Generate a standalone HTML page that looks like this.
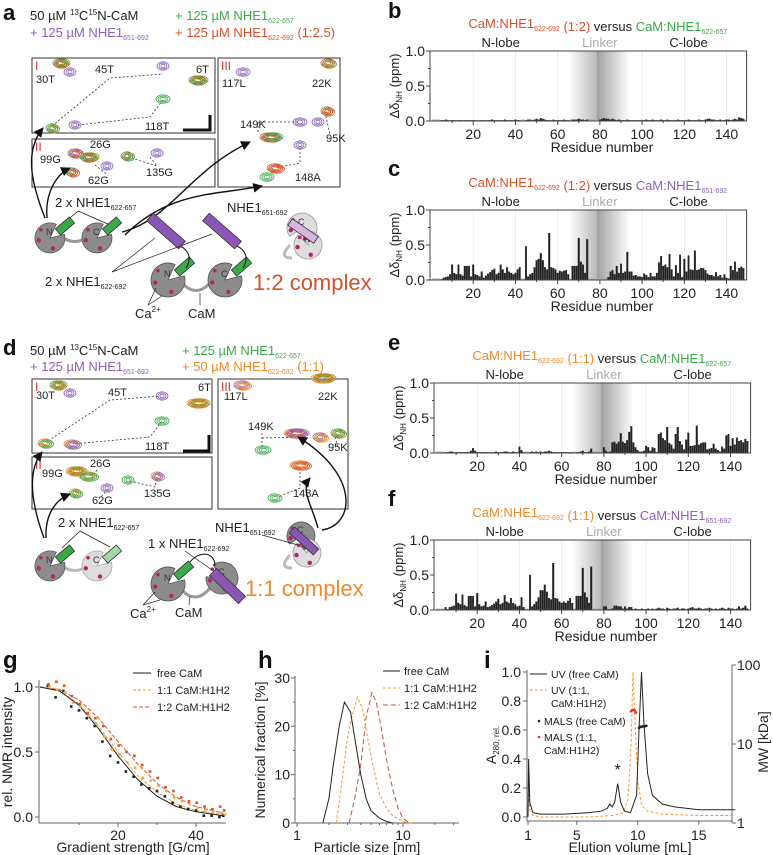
<!DOCTYPE html>
<html><head><meta charset="utf-8"><style>
html,body{margin:0;padding:0;background:#fff}
svg{display:block;font-family:"Liberation Sans",Arial,sans-serif}
</style></head><body>
<svg id="fig" width="773" height="855" viewBox="0 0 773 855" xmlns="http://www.w3.org/2000/svg">
<defs>
<linearGradient id="lk" x1="0" x2="1" y1="0" y2="0">
<stop offset="0" stop-color="#fff"/><stop offset="0.45" stop-color="#bdbdbd"/><stop offset="0.5" stop-color="#999"/><stop offset="0.52" stop-color="#aaa"/><stop offset="1" stop-color="#fff"/>
</linearGradient>
<marker id="ah" viewBox="0 0 10 10" refX="9" refY="5" markerWidth="7" markerHeight="7" orient="auto"><path d="M0,0 L10,5 L0,10 Z" fill="#111"/></marker>
</defs>
<g id="layer"></g>
</svg>
<script>
// ---------- bar chart data (residues 1..148, -1 = unassigned) ----------
const resB = [-1,-1,-1,-1,0.01,0.01,0.02,0.01,0.0,0.01,0.01,0.0,0.01,0.01,0.0,0.01,0.01,0.01,0.01,0.01,0.01,0.0,0.0,0.01,0.01,0.0,0.01,0.01,0.02,0.01,0.01,0.01,0.01,0.01,0.02,0.01,0.01,0.01,0.01,0.02,0.01,0.01,-1,-1,0.01,0.02,0.02,0.01,0.02,0.03,0.02,0.04,0.03,0.02,0.01,0.01,0.01,0.02,0.01,0.01,0.01,0.01,0.02,0.01,0.01,-1,0.02,0.02,0.02,0.03,0.02,0.02,0.01,0.02,-1,-1,-1,-1,-1,0.02,0.03,0.04,0.03,0.03,0.02,0.03,0.02,0.01,0.02,0.01,0.01,0.01,0.02,0.01,0.01,0.01,0.01,0.01,0.01,0.01,0.01,0.02,0.01,0.01,0.02,0.01,0.01,0.01,0.02,0.01,0.01,0.02,0.01,0.01,0.01,0.01,0.02,0.01,0.01,0.01,0.01,0.02,0.01,0.01,0.01,0.01,0.02,0.01,0.01,0.02,0.03,0.03,0.02,0.02,0.01,0.01,0.02,0.01,0.01,0.02,0.02,0.01,0.02,0.03,0.02,0.05,0.04,0.03];
const resC = [-1,-1,-1,-1,0.01,0.03,0.04,0.05,0.08,0.22,0.1,0.08,0.22,0.08,0.06,0.2,0.2,0.2,0.05,0.22,0.08,0.07,0.05,0.12,0.03,0.06,0.09,0.11,0.14,0.16,0.08,0.1,0.22,0.15,0.1,0.18,0.12,0.1,0.08,0.1,0.15,0.18,-1,-1,0.48,0.05,0.08,0.1,0.18,0.28,0.3,0.38,0.28,0.18,0.15,0.67,0.18,0.17,0.15,0.1,0.13,0.12,0.13,0.14,0.08,-1,0.2,0.2,0.2,0.6,0.26,0.22,0.1,0.58,-1,-1,-1,-1,-1,-1,-1,-1,-1,0.04,0.12,0.14,0.08,0.2,0.1,0.23,0.1,0.12,0.4,0.12,0.12,0.06,0.07,0.05,0.05,0.04,0.09,0.07,0.04,0.1,0.05,0.05,0.1,0.25,0.34,0.2,0.22,0.18,0.37,0.15,0.05,0.21,0.1,0.36,0.04,0.3,0.12,0.35,0.15,0.14,0.42,0.14,0.15,0.17,0.17,0.14,0.09,0.07,0.07,0.05,0.11,0.05,0.07,0.03,0.08,0.03,0.02,0.2,0.14,0.26,0.12,0.17,0.19,0.17];
const resE = [-1,-1,-1,-1,0.01,0.01,0.02,0.02,0.01,0.01,0.01,0.0,0.01,0.01,0.01,0.01,0.03,0.07,0.03,0.01,0.0,0.01,0.0,0.0,0.01,0.0,0.0,0.01,0.02,0.0,0.01,0.01,0.02,0.02,0.01,0.01,0.02,0.01,0.01,0.09,0.04,0.01,-1,-1,0.01,0.02,0.01,0.02,0.01,0.02,0.01,0.02,0.02,0.03,0.02,0.01,0.01,0.01,0.0,0.01,0.01,0.01,0.01,0.0,0.01,-1,0.01,0.01,0.02,0.03,0.01,0.01,0.02,0.06,-1,-1,-1,-1,-1,0.08,0.03,0.01,0.02,0.15,0.16,0.13,0.16,0.28,0.16,0.14,0.18,0.3,0.38,0.15,0.08,0.04,0.02,0.02,0.03,0.1,0.08,0.03,0.08,0.07,0.01,0.27,0.29,0.21,0.18,0.37,0.14,0.12,0.06,0.27,0.37,0.17,0.12,0.05,0.19,0.29,0.1,0.1,0.11,0.39,0.12,0.14,0.15,0.15,0.05,0.06,0.07,0.13,0.06,0.04,0.02,0.09,0.06,0.25,0.27,0.1,0.21,0.12,0.22,0.17,0.18,0.15,0.2,0.17];
const resF = [-1,-1,-1,-1,0.04,0.01,0.04,0.05,0.06,0.23,0.1,0.08,0.22,0.07,0.05,0.2,0.2,0.2,0.05,0.24,0.08,0.05,0.06,0.12,0.04,0.05,0.07,0.09,0.12,0.16,0.08,0.1,0.21,0.12,0.1,0.17,0.1,0.08,0.05,0.06,0.18,0.04,-1,-1,0.5,0.05,0.08,0.12,0.18,0.28,0.28,0.36,0.26,0.17,0.15,0.67,0.17,0.16,0.12,0.1,0.12,0.1,0.13,0.17,0.1,-1,0.2,0.2,0.2,0.6,0.25,0.18,0.1,0.62,-1,-1,-1,-1,-1,0.05,0.05,0.01,0.01,0.02,0.06,0.06,0.05,0.05,0.02,0.05,0.02,0.04,0.04,0.01,0.02,0.01,0.01,0.02,0.01,0.01,0.02,0.01,0.02,0.01,0.02,0.03,0.02,0.02,0.01,0.03,0.02,0.01,0.02,0.02,0.03,0.01,0.02,0.02,0.01,0.02,0.03,0.04,0.02,0.02,0.03,0.02,0.01,0.02,0.02,0.03,0.02,0.01,0.02,0.01,0.02,0.03,0.02,0.01,0.03,0.02,0.02,0.01,0.02,0.05,0.02,0.03,0.06,0.02];
const yTicksBar = [0.0, 0.5, 1.0];
const xTicksBar = [20, 40, 60, 80, 100, 120, 140];

// ---------- panel g ----------
const gradX = [2,4,6,8,10,12,14,16,18,20,22,24,26,28,30,32,34,36,38,40,42,44,46,47];
const gFree = [1.01,0.92,0.97,0.85,0.82,0.76,0.7,0.58,0.47,0.42,0.35,0.31,0.25,0.22,0.2,0.16,0.11,0.08,0.06,0.05,0.01,0.01,0.0,0.01];
const g11 = [1.0,0.98,0.96,0.88,0.85,0.78,0.72,0.62,0.52,0.48,0.42,0.38,0.3,0.28,0.24,0.2,0.15,0.12,0.1,0.07,0.05,0.04,0.03,0.02];
const g12 = [1.02,1.04,1.01,0.93,0.87,0.8,0.76,0.7,0.6,0.55,0.5,0.47,0.4,0.35,0.3,0.23,0.2,0.15,0.12,0.11,0.08,0.06,0.08,0.05];
const fitX = [0,5,10,15,20,25,30,35,40,47];
const fitFree = [1.0,0.97,0.86,0.68,0.47,0.29,0.16,0.08,0.04,0.01];
const fit11 = [1.0,0.97,0.87,0.7,0.5,0.32,0.19,0.1,0.05,0.02];
const fit12 = [1.0,0.98,0.9,0.76,0.58,0.41,0.26,0.15,0.08,0.03];

// ---------- panel h ----------
const hFreeX = [1.75,2.0,2.2,2.5,2.8,3.2,3.6,4.0,4.5,5.0,6.0,7.0,8.0];
const hFreeY = [0,5,12,20,25,23,16,10,5,2.5,1,0.3,0];
const h11X = [2.35,2.6,3.0,3.3,3.7,4.1,4.6,5.2,6.0,7.0,8.0,10.0,12.0];
const h11Y = [0,7,18,22,26,24,18,12,6,3,1.5,0.3,0];
const h12X = [3.1,3.5,4.0,4.5,5.1,5.6,6.2,7.0,8.0,9.0,10.0,11.5];
const h12Y = [0,5,12,22,27,25,20,13,7,3,1,0];

// ---------- panel i ----------
const uvFreeX = [1.0,1.05,1.15,1.4,2,4,6,7.0,7.5,7.7,7.9,8.1,8.35,8.6,8.9,9.4,9.9,10.1,10.3,10.5,10.8,11.2,12,13,15,18];
const uvFreeY = [0.0,0.4,0.1,0.03,0.02,0.02,0.03,0.04,0.06,0.09,0.07,0.1,0.23,0.1,0.04,0.03,0.15,0.6,1.0,0.65,0.3,0.15,0.09,0.07,0.05,0.05];
const uv11X = [1.0,1.05,1.15,1.4,2,6,8,8.8,9.2,9.45,9.6,9.8,10.0,10.3,10.8,12,15,18];
const uv11Y = [0.0,0.2,0.05,0.01,0.0,0.0,0.01,0.03,0.12,0.5,1.0,0.6,0.25,0.08,0.04,0.02,0.01,0.01];
const malsFreeX = [10.1,10.2,10.3,10.4,10.5,10.6,10.7];
const malsFreeMW = [16,16.5,16.5,16.7,16.8,16.8,17];
const mals11X = [9.45,9.55,9.65,9.75,9.85];
const mals11MW = [26,27,27,26.5,25];

// ---------- helpers ----------
const NS = 'http://www.w3.org/2000/svg';
const root = document.getElementById('layer');
function el(tag, attrs, name, parent){
  const e = document.createElementNS(NS, tag);
  for (const k in attrs) e.setAttribute(k, attrs[k]);
  
  
  (parent || root).appendChild(e);
  return e;
}
function txt(x, y, s, size, name, opts){
  opts = opts || {};
  const t = el('text', {x:x, y:y, 'font-size':size, fill:opts.fill||'#222', 'text-anchor':opts.anchor||'start', 'font-weight':opts.weight||'normal'}, name, opts.parent);
  if (opts.rot) t.setAttribute('transform', 'rotate(' + opts.rot + ' ' + x + ' ' + y + ')');
  t.innerHTML = s;
  return t;
}
function pathFrom(xs, ys, sx, sy){
  return xs.map((v,i)=>(i?'L':'M') + sx(v).toFixed(1) + ',' + sy(ys[i]).toFixed(1)).join(' ');
}
const SUB = (s,c)=>'<tspan font-size="7" dy="3" fill="'+c+'">'+s+'</tspan><tspan dy="-3"> </tspan>';

// ---------- bar panels ----------
const RED='#d4522a', GRN='#3aaa48', PUR='#8a62b6', ORG='#f0892a';
function barPanel(cfg){
  const g = el('g', {}, cfg.name);
  const sx = r => cfg.x0 + r*2.111;
  const sy = v => cfg.yb - v*(cfg.yb-cfg.yt);
  const L = sx(0)-1, R = sx(149.5);
  el('rect', {x:sx(65), y:cfg.yt, width:sx(94)-sx(65), height:cfg.yb-cfg.yt, fill:'url(#lk)'}, 'linker-shading', g);
  xTicksBar.forEach(t=>{
    el('line', {x1:sx(t), x2:sx(t), y1:cfg.yt, y2:cfg.yb, stroke:'#ccc', 'stroke-width':0.7, 'stroke-dasharray':'1,1'}, 'grid-line', g);
  });
  cfg.data.forEach((v,i)=>{
    const r = i+1;
    if (v < 0){
      el('rect', {x:sx(r)-0.9, y:cfg.yb-1.5, width:1.8, height:1.5, fill:'#aaa'}, 'unassigned-residue', g);
    } else {
      const h = Math.max(0.6, cfg.yb - sy(v));
      el('rect', {x:sx(r)-0.85, y:cfg.yb-h, width:1.7, height:h, fill:'#222', stroke:'#111', 'stroke-width':0.2}, 'bar-residue-'+r, g);
    }
  });
  el('rect', {x:L, y:cfg.yt, width:R-L, height:cfg.yb-cfg.yt, fill:'none', stroke:'#444', 'stroke-width':1}, 'plot-frame', g);
  yTicksBar.forEach(t=>{
    el('line', {x1:L-4, x2:L, y1:sy(t), y2:sy(t), stroke:'#444'}, 'y-tick', g);
    txt(L-5, sy(t)+5, t.toFixed(1), 14, 'y-tick-label', {anchor:'end', parent:g});
  });
  [0.25,0.75].forEach(t=>el('line', {x1:L-2, x2:L, y1:sy(t), y2:sy(t), stroke:'#444'}, 'y-minor-tick', g));
  xTicksBar.forEach(t=>{
    el('line', {x1:sx(t), x2:sx(t), y1:cfg.yb, y2:cfg.yb+4, stroke:'#444'}, 'x-tick', g);
    txt(sx(t), cfg.yb+18, t, 14, 'x-tick-label', {anchor:'middle', parent:g});
  });
  for (let t=10;t<150;t+=20) el('line', {x1:sx(t), x2:sx(t), y1:cfg.yb, y2:cfg.yb+2, stroke:'#444'}, 'x-minor-tick', g);
  txt(sx(81), cfg.yb+31, 'Residue number', 14, 'x-axis-title', {anchor:'middle', parent:g});
  txt(L-31, (cfg.yt+cfg.yb)/2, 'Δδ<tspan font-size="8" dy="3">NH</tspan><tspan dy="-3"> (ppm)</tspan>', 13, 'y-axis-title', {anchor:'middle', rot:-90, parent:g});
  txt(sx(33), cfg.yt-4, 'N-lobe', 13, 'n-lobe-label', {anchor:'middle', parent:g});
  txt(sx(80), cfg.yt-4, 'Linker', 13, 'linker-label', {anchor:'middle', fill:'#aaa', parent:g});
  txt(sx(122), cfg.yt-4, 'C-lobe', 13, 'c-lobe-label', {anchor:'middle', parent:g});
  txt(sx(79), cfg.yt-23, cfg.title, 13, 'panel-title', {anchor:'middle', parent:g});
  txt(cfg.lx, cfg.ly, cfg.letter, 22, 'panel-letter', {weight:'bold', fill:'#111', parent:g});
}
const T = (a,ac,b,bc,ratio)=>'<tspan fill="'+ac+'">CaM:NHE1</tspan>'+SUB(a,ac).replace('<tspan dy="-3"> </tspan>','<tspan dy="-3"></tspan>')+'<tspan fill="'+ac+'"> '+ratio+'</tspan> versus <tspan fill="'+bc+'">CaM:NHE1</tspan>'+SUB(b,bc).replace('<tspan dy="-3"> </tspan>','<tspan dy="-3"></tspan>');
barPanel({name:'panel-b-chart', x0:431, yt:51, yb:121, data:resB, title:T('622-692',RED,'622-657',GRN,'(1:2)'), letter:'b', lx:388, ly:18});
barPanel({name:'panel-c-chart', x0:431, yt:210, yb:280, data:resC, title:T('622-692',RED,'651-692',PUR,'(1:2)'), letter:'c', lx:388, ly:176});
barPanel({name:'panel-e-chart', x0:435, yt:383, yb:453, data:resE, title:T('622-692',ORG,'622-657',GRN,'(1:1)'), letter:'e', lx:388, ly:350});
barPanel({name:'panel-f-chart', x0:435, yt:540, yb:610, data:resF, title:T('622-692',ORG,'651-692',PUR,'(1:1)'), letter:'f', lx:388, ly:506});

// ---------- panel g ----------
(function(){
  const g = el('g', {}, 'panel-g-chart');
  const sx = v => 40 + v*3.9, sy = v => 817 - v*130;
  txt(3, 668, 'g', 24, 'panel-letter', {weight:'bold', fill:'#111', parent:g});
  el('line', {x1:39, x2:39, y1:680, y2:823, stroke:'#666'}, 'y-axis', g);
  el('line', {x1:39, x2:226, y1:823, y2:823, stroke:'#666'}, 'x-axis', g);
  [0,0.5,1.0].forEach(t=>{ el('line',{x1:35,x2:39,y1:sy(t),y2:sy(t),stroke:'#666'},'y-tick',g); txt(33, sy(t)+5, t.toFixed(1), 14, 'y-tick-label', {anchor:'end', parent:g}); });
  [20,40].forEach(t=>{ el('line',{x1:sx(t),x2:sx(t),y1:823,y2:827,stroke:'#666'},'x-tick',g); txt(sx(t), 840, t, 14, 'x-tick-label', {anchor:'middle', parent:g}); });
  [10,30].forEach(t=>el('line',{x1:sx(t),x2:sx(t),y1:823,y2:825,stroke:'#666'},'x-minor-tick',g));
  txt(133, 852, 'Gradient strength [G/cm]', 14, 'x-axis-title', {anchor:'middle', parent:g});
  txt(12, 752, 'rel. NMR intensity', 14, 'y-axis-title', {anchor:'middle', rot:-90, parent:g});
  el('path', {d:pathFrom(fitX, fit12, sx, sy), fill:'none', stroke:'#d4522a', 'stroke-width':1, 'stroke-dasharray':'4,2'}, 'fit-1-2', g);
  el('path', {d:pathFrom(fitX, fit11, sx, sy), fill:'none', stroke:'#f39a3c', 'stroke-width':1, 'stroke-dasharray':'3,2'}, 'fit-1-1', g);
  el('path', {d:pathFrom(fitX, fitFree, sx, sy), fill:'none', stroke:'#222', 'stroke-width':1}, 'fit-free', g);
  gradX.forEach((x,i)=>{
    el('rect',{x:sx(x)-1.3,y:sy(gFree[i])-1.3,width:2.6,height:2.6,fill:'#222'},'point-free',g);
    el('rect',{x:sx(x)+0.3,y:sy(g11[i])-1.3,width:2.6,height:2.6,fill:'#f5a84a'},'point-1-1',g);
    el('rect',{x:sx(x)-0.5,y:sy(g12[i])-1.3,width:2.6,height:2.6,fill:'#d4522a'},'point-1-2',g);
  });
  const lg=[['free CaM','#222',''],['1:1 CaM:H1H2','#f39a3c','3,2'],['1:2 CaM:H1H2','#d4522a','4,2']];
  lg.forEach((l,i)=>{ el('line',{x1:133,x2:151,y1:673+i*17,y2:673+i*17,stroke:l[1],'stroke-dasharray':l[2]},'legend-line',g); txt(157, 677+i*17, l[0], 11, 'legend-entry', {parent:g}); });
})();

// ---------- panel h ----------
(function(){
  const g = el('g', {}, 'panel-h-chart');
  const sx = v => 297 + Math.log10(v)*106, sy = v => 823 - v*(145/30);
  txt(258, 668, 'h', 24, 'panel-letter', {weight:'bold', fill:'#111', parent:g});
  el('line', {x1:295, x2:295, y1:676, y2:823, stroke:'#666'}, 'y-axis', g);
  el('line', {x1:295, x2:459, y1:823, y2:823, stroke:'#666'}, 'x-axis', g);
  [0,10,20,30].forEach(t=>{ el('line',{x1:291,x2:295,y1:sy(t),y2:sy(t),stroke:'#666'},'y-tick',g); txt(290, sy(t)+5, t, 14, 'y-tick-label', {anchor:'end', parent:g}); });
  [5,15,25].forEach(t=>el('line',{x1:293,x2:295,y1:sy(t),y2:sy(t),stroke:'#666'},'y-minor-tick',g));
  [1,10].forEach(t=>{ el('line',{x1:sx(t),x2:sx(t),y1:823,y2:827,stroke:'#666'},'x-tick',g); txt(sx(t), 840, t, 14, 'x-tick-label', {anchor:'middle', parent:g}); });
  [2,3,4,5,6,7,8,9,20,30].forEach(t=>el('line',{x1:sx(t),x2:sx(t),y1:823,y2:825,stroke:'#666'},'x-minor-tick',g));
  txt(367, 852, 'Particle size [nm]', 14, 'x-axis-title', {anchor:'middle', parent:g});
  txt(265, 750, 'Numerical  fraction [%]', 14, 'y-axis-title', {anchor:'middle', rot:-90, parent:g});
  el('path', {d:pathFrom(h12X, h12Y, sx, sy), fill:'none', stroke:'#b8553a', 'stroke-width':1, 'stroke-dasharray':'5,3'}, 'curve-1-2', g);
  el('path', {d:pathFrom(h11X, h11Y, sx, sy), fill:'none', stroke:'#f39a3c', 'stroke-width':1, 'stroke-dasharray':'3,2'}, 'curve-1-1', g);
  el('path', {d:pathFrom(hFreeX, hFreeY, sx, sy), fill:'none', stroke:'#222', 'stroke-width':1}, 'curve-free', g);
  const lg=[['free CaM','#222',''],['1:1 CaM:H1H2','#f39a3c','3,2'],['1:2 CaM:H1H2','#b8553a','5,3']];
  lg.forEach((l,i)=>{ el('line',{x1:383,x2:400,y1:671+i*17,y2:671+i*17,stroke:l[1],'stroke-dasharray':l[2]},'legend-line',g); txt(404, 675+i*17, l[0], 11, 'legend-entry', {parent:g}); });
})();

// ---------- panel i ----------
(function(){
  const g = el('g', {}, 'panel-i-chart');
  const sx = v => 528 + (v-1)*12.2, sy = v => 817 - v*145;
  const smw = v => 823 - Math.log10(v)*79;
  txt(484, 668, 'i', 24, 'panel-letter', {weight:'bold', fill:'#111', parent:g});
  el('line', {x1:527, x2:527, y1:670, y2:821, stroke:'#666'}, 'y-axis', g);
  el('line', {x1:732, x2:732, y1:665, y2:823, stroke:'#666'}, 'y2-axis', g);
  el('line', {x1:527, x2:732, y1:821, y2:821, stroke:'#666'}, 'x-axis', g);
  [0,0.2,0.4,0.6,0.8,1.0].forEach(t=>{ el('line',{x1:523,x2:527,y1:sy(t),y2:sy(t),stroke:'#666'},'y-tick',g); txt(521, sy(t)+5, t.toFixed(1), 14, 'y-tick-label', {anchor:'end', parent:g}); });
  [1,10,100].forEach(t=>{ el('line',{x1:732,x2:736,y1:smw(t),y2:smw(t),stroke:'#666'},'y2-tick',g); txt(737, smw(t)+5, t, 14, 'y2-tick-label', {parent:g}); });
  [1,5,10,15].forEach(t=>{ el('line',{x1:sx(t),x2:sx(t),y1:821,y2:825,stroke:'#666'},'x-tick',g); txt(sx(t), 840, t, 14, 'x-tick-label', {anchor:'middle', parent:g}); });
  txt(630, 852, 'Elution volume [mL]', 14, 'x-axis-title', {anchor:'middle', parent:g});
  txt(496, 745, 'A<tspan font-size="8" dy="3">280, rel.</tspan>', 14, 'y-axis-title', {anchor:'middle', rot:-90, parent:g});
  txt(768, 742, 'MW [kDa]', 14, 'y2-axis-title', {anchor:'middle', rot:-90, parent:g});
  el('path', {d:pathFrom(uv11X, uv11Y, sx, sy), fill:'none', stroke:'#f39a3c', 'stroke-width':1, 'stroke-dasharray':'3,2'}, 'uv-1-1', g);
  el('path', {d:pathFrom(uvFreeX, uvFreeY, sx, sy), fill:'none', stroke:'#222', 'stroke-width':1}, 'uv-free', g);
  malsFreeX.forEach((x,i)=>el('circle',{cx:sx(x),cy:smw(malsFreeMW[i]),r:1.3,fill:'#222'},'mals-free-point',g));
  mals11X.forEach((x,i)=>el('circle',{cx:sx(x),cy:smw(mals11MW[i]),r:1.3,fill:'#e0342a'},'mals-1-1-point',g));
  txt(sx(8.35), sy(0.29), '*', 16, 'impurity-asterisk', {anchor:'middle', parent:g});
  el('line',{x1:530,x2:547,y1:674,y2:674,stroke:'#222'},'legend-line',g);
  txt(551, 678, 'UV (free CaM)', 10.5, 'legend-entry', {parent:g});
  el('line',{x1:530,x2:547,y1:690,y2:690,stroke:'#f39a3c','stroke-dasharray':'3,2'},'legend-line',g);
  txt(551, 694, 'UV (1:1,', 10.5, 'legend-entry', {parent:g});
  txt(551, 707, 'CaM:H1H2)', 10.5, 'legend-entry', {parent:g});
  el('circle',{cx:539,cy:721,r:1.3,fill:'#222'},'legend-marker',g);
  txt(544, 725, 'MALS (free CaM)', 10.5, 'legend-entry', {parent:g});
  el('circle',{cx:539,cy:737,r:1.3,fill:'#e0342a'},'legend-marker',g);
  txt(544, 741, 'MALS (1:1,', 10.5, 'legend-entry', {parent:g});
  txt(544, 754, 'CaM:H1H2)', 10.5, 'legend-entry', {parent:g});
})();

// ---------- schematic panels a / d ----------
const CA='#b0256c';
function peak(x, y, cols, w, name, parent){
  const gg = el('g', {}, name, parent);
  cols.forEach((c,i)=>{
    for (let k=0;k<3;k++) el('ellipse',{cx:x+i*1.5,cy:y+(i%2),rx:(w||7)-k*2,ry:4.2-k*1.2,fill:'none',stroke:c,'stroke-width':0.8},'contour',gg);
  });
  el('ellipse',{cx:x,cy:y,rx:1.5,ry:0.8,fill:'#fff'},'contour-center',gg);
}
function lobe(cx, cy, r, label, fill, stroke, name, parent, mouthDeg){
  const gg = el('g', {}, name, parent);
  const m = (mouthDeg===undefined? -40 : mouthDeg) * Math.PI/180, half = 0.45;
  const a1 = m - half, a2 = m + half;
  const p1 = [cx + r*Math.cos(a2), cy + r*Math.sin(a2)], p0 = [cx + r*Math.cos(a1), cy + r*Math.sin(a1)];
  el('path',{d:'M'+cx+','+cy+' L'+p1[0].toFixed(1)+','+p1[1].toFixed(1)+' A'+r+','+r+' 0 1 1 '+p0[0].toFixed(1)+','+p0[1].toFixed(1)+' Z',fill:fill,stroke:stroke,'stroke-width':0.8},'lobe-body',gg);
  txt(cx-4, cy-3, label, 9, 'lobe-label', {fill:'#333', parent:gg});
  el('circle',{cx:cx-r*0.75,cy:cy+r*0.15,r:2.2,fill:CA},'calcium-ion',gg);
  el('circle',{cx:cx+r*0.2,cy:cy+r*0.7,r:2.2,fill:CA},'calcium-ion',gg);
  el('circle',{cx:cx-r*0.6,cy:cy-r*0.55,r:1.8,fill:CA},'calcium-ion',gg);
  return gg;
}
function helix(x1,y1,x2,y2,w,fill,name,parent){
  const ang = Math.atan2(y2-y1,x2-x1)*180/Math.PI, len = Math.hypot(x2-x1,y2-y1);
  el('rect',{x:x1,y:y1-w/2,width:len,height:w,fill:fill,stroke:'#333','stroke-width':0.8,transform:'rotate('+ang+' '+x1+' '+y1+')'},name,parent);
}
function box(x,y,w,h,roman,name,parent){
  el('rect',{x:x,y:y,width:w,height:h,fill:'none',stroke:'#333','stroke-width':1},name,parent);
  txt(x+3,y+12,roman,12,'box-roman-label',{fill:'#d03030',parent:parent});
}
function arrow(d,name,parent){ el('path',{d:d,fill:'none',stroke:'#111','stroke-width':1.4,'marker-end':'url(#ah)'},name,parent); }
function dash(d,parent){ el('path',{d:d,fill:'none',stroke:'#333','stroke-width':0.8,'stroke-dasharray':'2,2'},'peak-connector',parent); }
const OL='#8a8a2a';

// panel a
(function(){
  const g = el('g', {}, 'panel-a-schematic');
  txt(3, 20, 'a', 22, 'panel-letter', {weight:'bold', fill:'#111', parent:g});
  txt(30, 20, '50 µM <tspan font-size="8" dy="-5">13</tspan><tspan dy="5">C</tspan><tspan font-size="8" dy="-5">15</tspan><tspan dy="5">N-CaM</tspan>', 13, 'sample-label', {parent:g});
  txt(30, 37, '+ 125 µM NHE1'+SUB('651-692',PUR), 13, 'legend-nhe1-651-692', {fill:PUR, parent:g});
  txt(175, 20, '+ 125 µM NHE1'+SUB('622-657',GRN), 13, 'legend-nhe1-622-657', {fill:GRN, parent:g});
  txt(175, 37, '+ 125 µM NHE1'+SUB('622-692',RED)+'(1:2.5)', 13, 'legend-nhe1-622-692', {fill:RED, parent:g});
  box(32,58,183,75,'I','spectrum-box-1',g);
  box(32,139,183,48,'II','spectrum-box-2',g);
  box(218,58,122,129,'III','spectrum-box-3',g);
  dash('M52,126 L110,78 L163,74',g); dash('M78,125 L150,117 L163,100',g);
  dash('M95,165 L108,175 M150,157 L157,166 L128,157',g);
  dash('M258,132 L258,122 L300,122 M325,112 L330,135 M300,148 L300,163 L275,168',g);
  peak(60,63,[GRN,RED,OL],7,'peak-30T',g); peak(70,72,[PUR],6,'peak-30T-purple',g);
  peak(163,66,[PUR],6,'peak-45T',g); peak(197,80,[RED,GRN,OL],8,'peak-6T',g);
  peak(163,99,[GRN],7,'peak-118T',g); peak(52,128,[GRN,OL],6,'peak-30T-shift',g); peak(75,125,[PUR],6,'peak-118T-purple',g);
  peak(75,153,[PUR,RED],7,'peak-99G',g); peak(88,157,[GRN,RED,OL],8,'peak-26G',g); peak(72,172,[GRN,RED],6,'peak-62G',g);
  peak(107,166,[PUR],6,'peak-62G-purple',g); peak(127,156,[RED,GRN],6,'peak-135G',g); peak(157,153,[PUR],6,'peak-135G-purple',g);
  peak(243,72,[PUR],7,'peak-117L',g); peak(328,63,[RED,OL],7,'peak-22K',g); peak(300,122,[PUR],7,'peak-149K-purple',g);
  peak(270,137,[RED,RED,GRN],10,'peak-149K',g); peak(318,122,[PUR],6,'peak-95K-purple',g); peak(327,111,[OL,RED],6,'peak-95K',g);
  peak(300,145,[PUR],6,'peak-148A-purple',g); peak(275,168,[RED,RED],8,'peak-148A',g); peak(267,177,[GRN],7,'peak-148A-green',g);
  [['30T',36,83],['45T',95,73],['6T',196,73],['118T',145,130],['26G',90,148],['99G',40,163],['62G',88,184],['135G',146,176],['117L',222,87],['22K',312,87],['149K',240,128],['95K',326,142],['148A',295,181]].forEach(p=>txt(p[1],p[2],p[0],11,'peak-label-'+p[0],{parent:g}));
  el('path',{d:'M183,130 L210,130 L210,115',fill:'none',stroke:'#111','stroke-width':3},'scale-bar',g);
  arrow('M45,218 C30,180 25,150 43,128','arrow-to-box-1',g);
  arrow('M47,218 C45,195 55,175 70,168','arrow-to-box-2',g);
  arrow('M122,232 C170,220 190,170 250,142','arrow-to-box-3a',g);
  arrow('M125,235 C170,190 220,195 262,186','arrow-to-box-3b',g);
  txt(55,207,'2 x NHE1'+SUB('622-657','#222'),13,'label-2x-nhe1-622-657',{parent:g});
  el('path',{d:'M78,211 L62,225 M78,211 L110,225',fill:'none',stroke:'#222','stroke-width':0.8},'pointer-lines',g);
  el('path',{d:'M62,237 Q74,246 88,237',fill:'none',stroke:'#999','stroke-width':3},'cam-linker',g);
  lobe(50,238,15,'N','#8c8c8c','#555','n-lobe-small',g); helix(58,232,72,220,8,GRN,'helix-green',g);
  lobe(97,238,15,'C','#8c8c8c','#555','c-lobe-small',g); helix(105,232,119,220,8,GRN,'helix-green',g);
  el('path',{d:'M182,283 Q196,298 210,283',fill:'none',stroke:'#999','stroke-width':3},'cam-linker',g);
  lobe(168,280,17,'N','#8c8c8c','#555','n-lobe',g); helix(177,273,192,260,8,GRN,'helix-green',g);
  lobe(225,280,17,'C','#8c8c8c','#555','c-lobe',g); helix(234,273,249,260,8,GRN,'helix-green',g);
  el('path',{d:'M180,246 C192,252 190,262 186,268 M237,246 C249,252 247,262 243,268',fill:'none',stroke:'#111','stroke-width':1},'linker-curve',g);
  helix(150,217,182,245,10,'#8a58b4','helix-purple-1',g); helix(206,217,238,245,10,'#8a58b4','helix-purple-2',g);
  txt(45,286,'2 x NHE1'+SUB('622-692','#222'),13,'label-2x-nhe1-622-692',{parent:g});
  el('path',{d:'M112,272 L155,238 M112,272 L212,234',fill:'none',stroke:'#222','stroke-width':0.7},'pointer-lines',g);
  txt(253,290,'1:2 complex',22,'label-1-2-complex',{fill:RED,parent:g});
  txt(135,318,'Ca<tspan font-size="8" dy="-6">2+</tspan>',13,'label-calcium',{parent:g});
  txt(188,318,'CaM',13,'label-cam',{parent:g});
  el('path',{d:'M148,305 L156,288 M148,305 L162,296 M200,305 L200,293',fill:'none',stroke:'#222','stroke-width':0.7},'pointer-lines',g);
  txt(227,212,'NHE1'+SUB('651-692','#222'),13,'label-nhe1-651-692',{parent:g});
  el('path',{d:'M290,245 Q278,258 292,258',fill:'none',stroke:'#bbb','stroke-width':3},'cam-linker-light',g);
  lobe(302,228,15,'C','#ddd','#999','c-lobe-light',g,120); lobe(308,245,14,'N','#ddd','#999','n-lobe-light',g,-110);
  helix(290,222,316,240,8,'#d8b4e0','helix-light-purple',g);
})();

// panel d
(function(){
  const g = el('g', {}, 'panel-d-schematic');
  txt(3, 355, 'd', 22, 'panel-letter', {weight:'bold', fill:'#111', parent:g});
  txt(30, 355, '50 µM <tspan font-size="8" dy="-5">13</tspan><tspan dy="5">C</tspan><tspan font-size="8" dy="-5">15</tspan><tspan dy="5">N-CaM</tspan>', 13, 'sample-label', {parent:g});
  txt(30, 371, '+ 125 µM NHE1'+SUB('651-692',PUR), 13, 'legend-nhe1-651-692', {fill:PUR, parent:g});
  txt(182, 355, '+ 125 µM NHE1'+SUB('622-657',GRN), 13, 'legend-nhe1-622-657', {fill:GRN, parent:g});
  txt(182, 371, '+ 50 µM NHE1'+SUB('622-692',ORG)+'(1:1)', 13, 'legend-nhe1-622-692', {fill:ORG, parent:g});
  box(32,379,180,74,'I','spectrum-box-1',g);
  box(32,457,180,52,'II','spectrum-box-2',g);
  box(218,379,130,130,'III','spectrum-box-3',g);
  dash('M45,443 L110,400 L162,396 M72,444 L150,437 L162,421',g);
  dash('M97,470 L92,478 M108,489 L100,498 M130,481 L155,487 L157,478',g);
  dash('M262,433 L262,452 M262,438 L300,437 M335,437 L338,448 M300,468 L300,488 L278,497',g);
  peak(57,385,[GRN,ORG,OL],7,'peak-30T',g); peak(70,393,[PUR],6,'peak-30T-purple',g);
  peak(162,396,[PUR],6,'peak-45T',g); peak(197,403,[ORG,ORG,OL],10,'peak-6T',g);
  peak(162,421,[GRN],7,'peak-118T',g); peak(45,443,[ORG,GRN],7,'peak-30T-shift',g); peak(72,444,[ORG,PUR],8,'peak-118T-shift',g);
  peak(75,471,[ORG,ORG,OL],9,'peak-99G',g); peak(88,476,[ORG,GRN],9,'peak-26G',g); peak(75,493,[ORG,GRN],6,'peak-62G',g);
  peak(107,488,[PUR],6,'peak-62G-purple',g); peak(128,480,[GRN],6,'peak-135G',g); peak(157,476,[ORG,PUR],6,'peak-135G-shift',g);
  peak(242,385,[PUR,ORG],8,'peak-117L',g); peak(322,378,[ORG,ORG,OL],11,'peak-22K',g);
  peak(295,433,[ORG,RED,PUR],11,'peak-149K',g); peak(320,437,[PUR,ORG],7,'peak-95K-purple',g); peak(338,433,[GRN,OL],7,'peak-95K',g);
  peak(263,450,[GRN],8,'peak-149K-green',g); peak(300,465,[ORG,RED],10,'peak-148A',g); peak(275,498,[GRN],7,'peak-148A-green',g);
  [['30T',36,399],['45T',108,396],['6T',198,391],['118T',145,450],['26G',90,467],['99G',42,477],['62G',92,504],['135G',144,497],['117L',224,400],['22K',318,400],['149K',248,430],['95K',328,451],['148A',293,497]].forEach(p=>txt(p[1],p[2],p[0],11,'peak-label-'+p[0],{parent:g}));
  el('path',{d:'M183,451 L209,451 L209,435',fill:'none',stroke:'#111','stroke-width':3},'scale-bar',g);
  arrow('M44,538 C30,500 28,470 42,452','arrow-to-box-1',g);
  arrow('M46,538 C45,515 55,500 70,494','arrow-to-box-2',g);
  arrow('M318,528 C312,505 300,490 310,478','arrow-to-148A',g);
  arrow('M322,530 C355,525 360,475 298,437','arrow-to-149K',g);
  txt(58,527,'2 x NHE1'+SUB('622-657','#222'),13,'label-2x-nhe1-622-657',{parent:g});
  el('path',{d:'M80,531 L62,548 M80,531 L110,547',fill:'none',stroke:'#222','stroke-width':0.8},'pointer-lines',g);
  el('path',{d:'M62,566 Q74,575 88,566',fill:'none',stroke:'#bbb','stroke-width':3},'cam-linker',g);
  lobe(50,566,15,'N','#8c8c8c','#555','n-lobe-small',g); helix(58,560,72,548,8,GRN,'helix-green',g);
  lobe(97,566,15,'C','#ddd','#aaa','c-lobe-small-light',g); helix(105,560,119,548,8,'#9fd8a4','helix-light-green',g);
  txt(148,548,'1 x NHE1'+SUB('622-692','#222'),13,'label-1x-nhe1-622-692',{parent:g});
  el('path',{d:'M182,590 Q196,605 210,588',fill:'none',stroke:'#999','stroke-width':3},'cam-linker',g);
  lobe(168,584,17,'N','#8c8c8c','#555','n-lobe',g); helix(176,577,191,564,8,GRN,'helix-green',g);
  lobe(222,578,16,'C','#8c8c8c','#555','c-lobe',g,-150);
  el('path',{d:'M190,562 C200,550 215,552 215,566',fill:'none',stroke:'#111','stroke-width':1},'linker-curve',g);
  helix(213,572,242,600,10,'#8a58b4','helix-purple',g);
  el('path',{d:'M185,551 L212,570',fill:'none',stroke:'#222','stroke-width':0.7},'pointer-lines',g);
  txt(245,596,'1:1 complex',22,'label-1-1-complex',{fill:ORG,parent:g});
  txt(130,618,'Ca<tspan font-size="8" dy="-6">2+</tspan>',13,'label-calcium',{parent:g});
  txt(175,617,'CaM',13,'label-cam',{parent:g});
  el('path',{d:'M143,605 L155,592 M143,605 L160,600 M189,605 L190,596',fill:'none',stroke:'#222','stroke-width':0.7},'pointer-lines',g);
  txt(215,532,'NHE1'+SUB('651-692','#222'),13,'label-nhe1-651-692',{parent:g});
  el('path',{d:'M290,555 Q278,568 292,568',fill:'none',stroke:'#bbb','stroke-width':3},'cam-linker',g);
  lobe(301,536,14,'C','#8c8c8c','#555','c-lobe-bound',g,120); lobe(307,553,14,'N','#ddd','#999','n-lobe-light',g,-110);
  helix(292,530,316,552,8,'#8a58b4','helix-purple',g);
  el('path',{d:'M262,535 L298,545',fill:'none',stroke:'#222','stroke-width':0.7},'pointer-lines',g);
})();
</script>
</body></html>
